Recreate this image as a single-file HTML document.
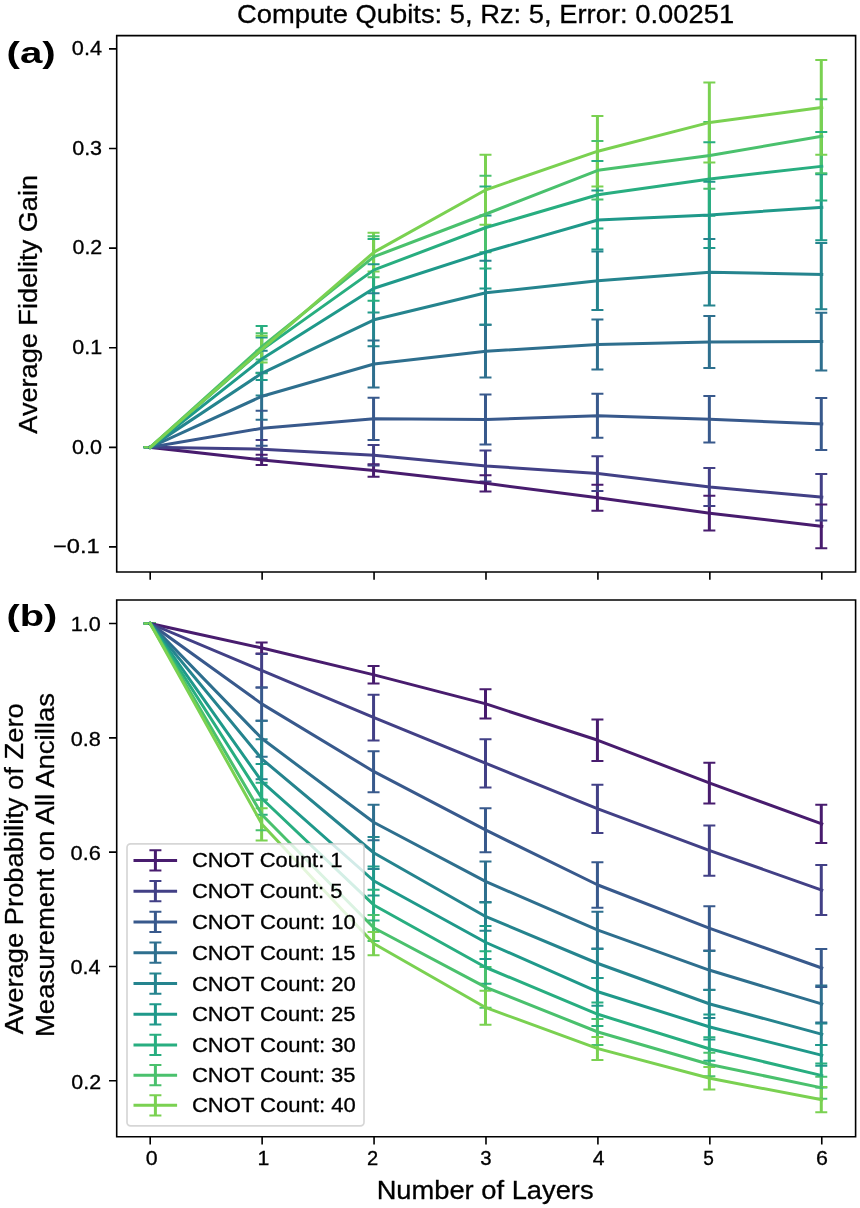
<!DOCTYPE html>
<html><head><meta charset="utf-8"><title>Fidelity gain chart</title>
<style>html,body{margin:0;padding:0;background:#fff;}body{width:860px;height:1208px;overflow:hidden;font-family:"Liberation Sans", sans-serif;}svg{display:block;will-change:transform;}</style></head>
<body>
<svg width="860" height="1208" viewBox="0 0 860 1208" font-family='"Liberation Sans", sans-serif' fill="#000">
<style>text{stroke:#000;stroke-width:0.3px;}text[font-weight=bold]{stroke-width:0;}</style>
<rect width="860" height="1208" fill="#fff"/>
<clipPath id="ca"><rect x="116.7" y="35.6" width="738.9" height="536.4"/></clipPath>
<clipPath id="cb"><rect x="116.7" y="600" width="738.9" height="536.8"/></clipPath>
<g clip-path="url(#ca)"><g stroke-width="3" fill="none">
<path stroke="#481c6e" d="M261.63 454.7V465.1M373.56 464.3V476.7M485.49 475.2V491.4M597.42 484.8V510.8M709.35 495.8V530.6M821.28 504.6V548.2"/>
<path stroke="#424086" d="M261.63 440.1V458.3M373.56 444.9V465.5M485.49 450.4V481.4M597.42 456.2V491M709.35 467.9V506.1M821.28 473.9V520.5"/>
<path stroke="#38598c" d="M261.63 410.8V445.8M373.56 397.7V439.9M485.49 394.6V444.6M597.42 393.8V437.8M709.35 396.1V442.5M821.28 397.9V450.1"/>
<path stroke="#2e6f8e" d="M261.63 372.7V419.7M373.56 340.4V387.6M485.49 324.8V377.6M597.42 319.6V369.6M709.35 315.9V368.1M821.28 312.7V370.5"/>
<path stroke="#25848e" d="M261.63 350.7V395.5M373.56 293.3V346.3M485.49 260.8V324.8M597.42 251.6V310M709.35 239V305.6M821.28 243.1V309.2"/>
<path stroke="#1f998a" d="M261.63 337.4V380M373.56 264.2V312.4M485.49 215.6V288.4M597.42 190.6V249.4M709.35 181.8V248M821.28 174.3V240.3"/>
<path stroke="#28ae80" d="M261.63 326V373.2M373.56 239V300.8M485.49 186.5V268.5M597.42 161V228.6M709.35 142.3V215.7M821.28 132V200.6"/>
<path stroke="#4ac16d" d="M261.63 333.35V359.45M373.56 236.25V277.15M485.49 175.7V252.3M597.42 141V199.6M709.35 122.1V188.7M821.28 99.3V173.3"/>
<path stroke="#7ad151" d="M261.63 335.8V362.5M373.56 232.8V271.4M485.49 154.8V224.8M597.42 116V186.4M709.35 82.4V162.4M821.28 60.1V154.7"/>
</g>
<g stroke-width="2" fill="none">
<path stroke="#481c6e" d="M143.7 447.35h12M143.7 447.35h12M255.63 454.7h12M255.63 465.1h12M367.56 464.3h12M367.56 476.7h12M479.49 475.2h12M479.49 491.4h12M591.42 484.8h12M591.42 510.8h12M703.35 495.8h12M703.35 530.6h12M815.28 504.6h12M815.28 548.2h12"/>
<path stroke="#424086" d="M143.7 447.35h12M143.7 447.35h12M255.63 440.1h12M255.63 458.3h12M367.56 444.9h12M367.56 465.5h12M479.49 450.4h12M479.49 481.4h12M591.42 456.2h12M591.42 491h12M703.35 467.9h12M703.35 506.1h12M815.28 473.9h12M815.28 520.5h12"/>
<path stroke="#38598c" d="M143.7 447.35h12M143.7 447.35h12M255.63 410.8h12M255.63 445.8h12M367.56 397.7h12M367.56 439.9h12M479.49 394.6h12M479.49 444.6h12M591.42 393.8h12M591.42 437.8h12M703.35 396.1h12M703.35 442.5h12M815.28 397.9h12M815.28 450.1h12"/>
<path stroke="#2e6f8e" d="M143.7 447.35h12M143.7 447.35h12M255.63 372.7h12M255.63 419.7h12M367.56 340.4h12M367.56 387.6h12M479.49 324.8h12M479.49 377.6h12M591.42 319.6h12M591.42 369.6h12M703.35 315.9h12M703.35 368.1h12M815.28 312.7h12M815.28 370.5h12"/>
<path stroke="#25848e" d="M143.7 447.35h12M143.7 447.35h12M255.63 350.7h12M255.63 395.5h12M367.56 293.3h12M367.56 346.3h12M479.49 260.8h12M479.49 324.8h12M591.42 251.6h12M591.42 310h12M703.35 239h12M703.35 305.6h12M815.28 243.1h12M815.28 309.2h12"/>
<path stroke="#1f998a" d="M143.7 447.35h12M143.7 447.35h12M255.63 337.4h12M255.63 380h12M367.56 264.2h12M367.56 312.4h12M479.49 215.6h12M479.49 288.4h12M591.42 190.6h12M591.42 249.4h12M703.35 181.8h12M703.35 248h12M815.28 174.3h12M815.28 240.3h12"/>
<path stroke="#28ae80" d="M143.7 447.35h12M143.7 447.35h12M255.63 326h12M255.63 373.2h12M367.56 239h12M367.56 300.8h12M479.49 186.5h12M479.49 268.5h12M591.42 161h12M591.42 228.6h12M703.35 142.3h12M703.35 215.7h12M815.28 132h12M815.28 200.6h12"/>
<path stroke="#4ac16d" d="M143.7 447.35h12M143.7 447.35h12M255.63 333.35h12M255.63 359.45h12M367.56 236.25h12M367.56 277.15h12M479.49 175.7h12M479.49 252.3h12M591.42 141h12M591.42 199.6h12M703.35 122.1h12M703.35 188.7h12M815.28 99.3h12M815.28 173.3h12"/>
<path stroke="#7ad151" d="M143.7 447.35h12M143.7 447.35h12M255.63 335.8h12M255.63 362.5h12M367.56 232.8h12M367.56 271.4h12M479.49 154.8h12M479.49 224.8h12M591.42 116h12M591.42 186.4h12M703.35 82.4h12M703.35 162.4h12M815.28 60.1h12M815.28 154.7h12"/>
</g>
<g stroke-width="3" fill="none" stroke-linecap="square" stroke-linejoin="round">
<path stroke="#481c6e" d="M150.2 447.35 L262.13 459.9 L374.06 470.5 L485.99 483.3 L597.92 497.8 L709.85 513.2 L821.78 526.4"/>
<path stroke="#424086" d="M150.2 447.35 L262.13 449.2 L374.06 455.2 L485.99 465.9 L597.92 473.6 L709.85 487 L821.78 497.2"/>
<path stroke="#38598c" d="M150.2 447.35 L262.13 428.3 L374.06 418.8 L485.99 419.6 L597.92 415.8 L709.85 419.3 L821.78 424"/>
<path stroke="#2e6f8e" d="M150.2 447.35 L262.13 396.2 L374.06 364 L485.99 351.2 L597.92 344.6 L709.85 342 L821.78 341.6"/>
<path stroke="#25848e" d="M150.2 447.35 L262.13 373.1 L374.06 319.8 L485.99 292.8 L597.92 280.8 L709.85 272.3 L821.78 274.4"/>
<path stroke="#1f998a" d="M150.2 447.35 L262.13 358.7 L374.06 288.3 L485.99 252 L597.92 220 L709.85 214.9 L821.78 207.3"/>
<path stroke="#28ae80" d="M150.2 447.35 L262.13 349.6 L374.06 269.9 L485.99 227.5 L597.92 194.8 L709.85 179 L821.78 166.3"/>
<path stroke="#4ac16d" d="M150.2 447.35 L262.13 346.4 L374.06 256.7 L485.99 214 L597.92 170.3 L709.85 155.4 L821.78 136.3"/>
<path stroke="#7ad151" d="M150.2 447.35 L262.13 349.15 L374.06 252.1 L485.99 189.8 L597.92 151.2 L709.85 122.4 L821.78 107.4"/>
</g></g>
<g clip-path="url(#cb)"><g stroke-width="3" fill="none">
<path stroke="#481c6e" d="M261.63 642.4V653.6M373.56 666.1V683.6M485.49 689.25V718.55M597.42 719.55V761.05M709.35 762.65V803.55M821.28 804.65V842.95"/>
<path stroke="#424086" d="M261.63 654V687.4M373.56 694.8V740.4M485.49 739.2V787.6M597.42 784.7V832.9M709.35 825.4V875.8M821.28 865.1V915.1"/>
<path stroke="#38598c" d="M261.63 687.4V720.8M373.56 751.2V792.2M485.49 808.25V852.15M597.42 862.15V907.85M709.35 906.25V950.55M821.28 949V987"/>
<path stroke="#2e6f8e" d="M261.63 720.8V756.8M373.56 804.65V840.35M485.49 861.4V902M597.42 911.85V948.55M709.35 950.9V989.7M821.28 985.5V1022.5"/>
<path stroke="#25848e" d="M261.63 739.2V779.2M373.56 837.1V868.9M485.49 902.6V930.8M597.42 949.05V977.95M709.35 990V1018M821.28 1023.4V1045"/>
<path stroke="#1f998a" d="M261.63 764.1V799.7M373.56 866.6V895.4M485.49 926.1V958.9M597.42 977.9V1005.7M709.35 1014.5V1039.5M821.28 1044.9V1065.7"/>
<path stroke="#28ae80" d="M261.63 782.8V814.7M373.56 889.85V920.55M485.49 951.3V983.7M597.42 1002.6V1026M709.35 1037.15V1060.85M821.28 1063.5V1087.5"/>
<path stroke="#4ac16d" d="M261.63 799.7V830.2M373.56 914.95V941.05M485.49 967.1V1007.7M597.42 1019V1045M709.35 1052.65V1076.35M821.28 1076.8V1098.8"/>
<path stroke="#7ad151" d="M261.63 808.3V840.6M373.56 932.1V955.3M485.49 990.7V1024.7M597.42 1037.1V1060.1M709.35 1067.05V1089.55M821.28 1087.1V1112.3"/>
</g>
<g stroke-width="2" fill="none">
<path stroke="#481c6e" d="M143.7 623.55h12M143.7 623.55h12M255.63 642.4h12M255.63 653.6h12M367.56 666.1h12M367.56 683.6h12M479.49 689.25h12M479.49 718.55h12M591.42 719.55h12M591.42 761.05h12M703.35 762.65h12M703.35 803.55h12M815.28 804.65h12M815.28 842.95h12"/>
<path stroke="#424086" d="M143.7 623.55h12M143.7 623.55h12M255.63 654h12M255.63 687.4h12M367.56 694.8h12M367.56 740.4h12M479.49 739.2h12M479.49 787.6h12M591.42 784.7h12M591.42 832.9h12M703.35 825.4h12M703.35 875.8h12M815.28 865.1h12M815.28 915.1h12"/>
<path stroke="#38598c" d="M143.7 623.55h12M143.7 623.55h12M255.63 687.4h12M255.63 720.8h12M367.56 751.2h12M367.56 792.2h12M479.49 808.25h12M479.49 852.15h12M591.42 862.15h12M591.42 907.85h12M703.35 906.25h12M703.35 950.55h12M815.28 949h12M815.28 987h12"/>
<path stroke="#2e6f8e" d="M143.7 623.55h12M143.7 623.55h12M255.63 720.8h12M255.63 756.8h12M367.56 804.65h12M367.56 840.35h12M479.49 861.4h12M479.49 902h12M591.42 911.85h12M591.42 948.55h12M703.35 950.9h12M703.35 989.7h12M815.28 985.5h12M815.28 1022.5h12"/>
<path stroke="#25848e" d="M143.7 623.55h12M143.7 623.55h12M255.63 739.2h12M255.63 779.2h12M367.56 837.1h12M367.56 868.9h12M479.49 902.6h12M479.49 930.8h12M591.42 949.05h12M591.42 977.95h12M703.35 990h12M703.35 1018h12M815.28 1023.4h12M815.28 1045h12"/>
<path stroke="#1f998a" d="M143.7 623.55h12M143.7 623.55h12M255.63 764.1h12M255.63 799.7h12M367.56 866.6h12M367.56 895.4h12M479.49 926.1h12M479.49 958.9h12M591.42 977.9h12M591.42 1005.7h12M703.35 1014.5h12M703.35 1039.5h12M815.28 1044.9h12M815.28 1065.7h12"/>
<path stroke="#28ae80" d="M143.7 623.55h12M143.7 623.55h12M255.63 782.8h12M255.63 814.7h12M367.56 889.85h12M367.56 920.55h12M479.49 951.3h12M479.49 983.7h12M591.42 1002.6h12M591.42 1026h12M703.35 1037.15h12M703.35 1060.85h12M815.28 1063.5h12M815.28 1087.5h12"/>
<path stroke="#4ac16d" d="M143.7 623.55h12M143.7 623.55h12M255.63 799.7h12M255.63 830.2h12M367.56 914.95h12M367.56 941.05h12M479.49 967.1h12M479.49 1007.7h12M591.42 1019h12M591.42 1045h12M703.35 1052.65h12M703.35 1076.35h12M815.28 1076.8h12M815.28 1098.8h12"/>
<path stroke="#7ad151" d="M143.7 623.55h12M143.7 623.55h12M255.63 808.3h12M255.63 840.6h12M367.56 932.1h12M367.56 955.3h12M479.49 990.7h12M479.49 1024.7h12M591.42 1037.1h12M591.42 1060.1h12M703.35 1067.05h12M703.35 1089.55h12M815.28 1087.1h12M815.28 1112.3h12"/>
</g>
<g stroke-width="3" fill="none" stroke-linecap="square" stroke-linejoin="round">
<path stroke="#481c6e" d="M150.2 623.55 L262.13 648 L374.06 674.85 L485.99 703.9 L597.92 740.3 L709.85 783.1 L821.78 823.8"/>
<path stroke="#424086" d="M150.2 623.55 L262.13 670.7 L374.06 717.6 L485.99 763.4 L597.92 808.8 L709.85 850.6 L821.78 890.1"/>
<path stroke="#38598c" d="M150.2 623.55 L262.13 704.1 L374.06 771.7 L485.99 830.2 L597.92 885 L709.85 928.4 L821.78 968"/>
<path stroke="#2e6f8e" d="M150.2 623.55 L262.13 738.8 L374.06 822.5 L485.99 881.7 L597.92 930.2 L709.85 970.3 L821.78 1004"/>
<path stroke="#25848e" d="M150.2 623.55 L262.13 759.2 L374.06 853 L485.99 916.7 L597.92 963.5 L709.85 1004 L821.78 1034.2"/>
<path stroke="#1f998a" d="M150.2 623.55 L262.13 781.9 L374.06 881 L485.99 942.5 L597.92 991.8 L709.85 1027 L821.78 1055.3"/>
<path stroke="#28ae80" d="M150.2 623.55 L262.13 798.75 L374.06 905.2 L485.99 967.5 L597.92 1014.3 L709.85 1049 L821.78 1075.5"/>
<path stroke="#4ac16d" d="M150.2 623.55 L262.13 814.95 L374.06 928 L485.99 987.4 L597.92 1032 L709.85 1064.5 L821.78 1087.8"/>
<path stroke="#7ad151" d="M150.2 623.55 L262.13 824.45 L374.06 943.7 L485.99 1007.7 L597.92 1048.6 L709.85 1078.3 L821.78 1099.7"/>
</g></g>
<rect x="127" y="843.8" width="237" height="282.1" rx="3.6" ry="3.6" fill="#fff" fill-opacity="0.8" stroke="#ccc" stroke-opacity="0.8" stroke-width="1.7"/>
<path stroke="#481c6e" stroke-width="3" d="M155.4 850.25V870.55"/>
<path stroke="#481c6e" stroke-width="2" d="M149.4 850.25h12M149.4 870.55h12"/>
<path stroke="#481c6e" stroke-width="3" stroke-linecap="square" d="M135 860.4H175.6"/>
<text x="191.91" y="867.3" font-size="20" textLength="150.62" lengthAdjust="spacingAndGlyphs">CNOT Count: 1</text>
<path stroke="#424086" stroke-width="3" d="M155.4 881.05V901.35"/>
<path stroke="#424086" stroke-width="2" d="M149.4 881.05h12M149.4 901.35h12"/>
<path stroke="#424086" stroke-width="3" stroke-linecap="square" d="M135 891.2H175.6"/>
<text x="191.91" y="898.1" font-size="20" textLength="150.55" lengthAdjust="spacingAndGlyphs">CNOT Count: 5</text>
<path stroke="#38598c" stroke-width="3" d="M155.4 911.75V932.05"/>
<path stroke="#38598c" stroke-width="2" d="M149.4 911.75h12M149.4 932.05h12"/>
<path stroke="#38598c" stroke-width="3" stroke-linecap="square" d="M135 921.9H175.6"/>
<text x="191.9" y="928.8" font-size="20" textLength="163.9" lengthAdjust="spacingAndGlyphs">CNOT Count: 10</text>
<path stroke="#2e6f8e" stroke-width="3" d="M155.4 942.55V962.85"/>
<path stroke="#2e6f8e" stroke-width="2" d="M149.4 942.55h12M149.4 962.85h12"/>
<path stroke="#2e6f8e" stroke-width="3" stroke-linecap="square" d="M135 952.7H175.6"/>
<text x="191.9" y="959.6" font-size="20" textLength="163.54" lengthAdjust="spacingAndGlyphs">CNOT Count: 15</text>
<path stroke="#25848e" stroke-width="3" d="M155.4 973.45V993.75"/>
<path stroke="#25848e" stroke-width="2" d="M149.4 973.45h12M149.4 993.75h12"/>
<path stroke="#25848e" stroke-width="3" stroke-linecap="square" d="M135 983.6H175.6"/>
<text x="191.9" y="990.5" font-size="20" textLength="163.9" lengthAdjust="spacingAndGlyphs">CNOT Count: 20</text>
<path stroke="#1f998a" stroke-width="3" d="M155.4 1004.15V1024.45"/>
<path stroke="#1f998a" stroke-width="2" d="M149.4 1004.15h12M149.4 1024.45h12"/>
<path stroke="#1f998a" stroke-width="3" stroke-linecap="square" d="M135 1014.3H175.6"/>
<text x="191.9" y="1021.2" font-size="20" textLength="163.54" lengthAdjust="spacingAndGlyphs">CNOT Count: 25</text>
<path stroke="#28ae80" stroke-width="3" d="M155.4 1034.75V1055.05"/>
<path stroke="#28ae80" stroke-width="2" d="M149.4 1034.75h12M149.4 1055.05h12"/>
<path stroke="#28ae80" stroke-width="3" stroke-linecap="square" d="M135 1044.9H175.6"/>
<text x="191.9" y="1051.8" font-size="20" textLength="163.9" lengthAdjust="spacingAndGlyphs">CNOT Count: 30</text>
<path stroke="#4ac16d" stroke-width="3" d="M155.4 1065.05V1085.35"/>
<path stroke="#4ac16d" stroke-width="2" d="M149.4 1065.05h12M149.4 1085.35h12"/>
<path stroke="#4ac16d" stroke-width="3" stroke-linecap="square" d="M135 1075.2H175.6"/>
<text x="191.9" y="1082.1" font-size="20" textLength="163.54" lengthAdjust="spacingAndGlyphs">CNOT Count: 35</text>
<path stroke="#7ad151" stroke-width="3" d="M155.4 1095.15V1115.45"/>
<path stroke="#7ad151" stroke-width="2" d="M149.4 1095.15h12M149.4 1115.45h12"/>
<path stroke="#7ad151" stroke-width="3" stroke-linecap="square" d="M135 1105.3H175.6"/>
<text x="191.9" y="1112.2" font-size="20" textLength="163.9" lengthAdjust="spacingAndGlyphs">CNOT Count: 40</text>
<path stroke="#000" stroke-width="1.6" fill="none" stroke-linecap="square" d="M116.7 35.6H855.6V572H116.7Z"/>
<path stroke="#000" stroke-width="1.6" fill="none" stroke-linecap="square" d="M116.7 600H855.6V1136.8H116.7Z"/>
<path stroke="#000" stroke-width="1.6" d="M150.2 572v7.7M150.2 1136.8v7.7M262.13 572v7.7M262.13 1136.8v7.7M374.06 572v7.7M374.06 1136.8v7.7M485.99 572v7.7M485.99 1136.8v7.7M597.92 572v7.7M597.92 1136.8v7.7M709.85 572v7.7M709.85 1136.8v7.7M821.78 572v7.7M821.78 1136.8v7.7M116.7 48.9h-7.7M116.7 148.5h-7.7M116.7 248.1h-7.7M116.7 347.7h-7.7M116.7 447.35h-7.7M116.7 546.9h-7.7M116.7 623.55h-7.7M116.7 737.85h-7.7M116.7 852.15h-7.7M116.7 966.45h-7.7M116.7 1080.75h-7.7"/>
<text x="71.83" y="55.1" font-size="20" textLength="30.17" lengthAdjust="spacingAndGlyphs">0.4</text>
<text x="72.16" y="154.7" font-size="20" textLength="29.96" lengthAdjust="spacingAndGlyphs">0.3</text>
<text x="72.56" y="254.3" font-size="20" textLength="29.72" lengthAdjust="spacingAndGlyphs">0.2</text>
<text x="72.36" y="353.9" font-size="20" textLength="29.87" lengthAdjust="spacingAndGlyphs">0.1</text>
<text x="71.94" y="453.55" font-size="20" textLength="29.98" lengthAdjust="spacingAndGlyphs">0.0</text>
<text x="52.92" y="553.1" font-size="20" textLength="46.75" lengthAdjust="spacingAndGlyphs">−0.1</text>
<text x="70.78" y="631.35" font-size="20" textLength="30.03" lengthAdjust="spacingAndGlyphs">1.0</text>
<text x="70.73" y="745.65" font-size="20" textLength="30.2" lengthAdjust="spacingAndGlyphs">0.8</text>
<text x="70.61" y="859.95" font-size="20" textLength="30.32" lengthAdjust="spacingAndGlyphs">0.6</text>
<text x="70.47" y="974.25" font-size="20" textLength="30.13" lengthAdjust="spacingAndGlyphs">0.4</text>
<text x="71.36" y="1088.55" font-size="20" textLength="29.72" lengthAdjust="spacingAndGlyphs">0.2</text>
<text x="145.75" y="1164.9" font-size="20" textLength="11.88" lengthAdjust="spacingAndGlyphs">0</text>
<text x="257.4" y="1164.9" font-size="20" textLength="11.83" lengthAdjust="spacingAndGlyphs">1</text>
<text x="366.94" y="1164.9" font-size="20" textLength="11.18" lengthAdjust="spacingAndGlyphs">2</text>
<text x="480.24" y="1164.9" font-size="20" textLength="11.3" lengthAdjust="spacingAndGlyphs">3</text>
<text x="592.87" y="1164.9" font-size="20" textLength="11.78" lengthAdjust="spacingAndGlyphs">4</text>
<text x="703.19" y="1164.9" font-size="20" textLength="10.6" lengthAdjust="spacingAndGlyphs">5</text>
<text x="815.93" y="1164.9" font-size="20" textLength="11.91" lengthAdjust="spacingAndGlyphs">6</text>
<text x="236.93" y="22.7" font-size="26" textLength="497.19" lengthAdjust="spacingAndGlyphs">Compute Qubits: 5, Rz: 5, Error: 0.00251</text>
<text x="376.65" y="1198.7" font-size="26" textLength="216.92" lengthAdjust="spacingAndGlyphs">Number of Layers</text>
<text x="36.9" y="433.67" font-size="26" textLength="258.69" lengthAdjust="spacingAndGlyphs" transform="rotate(-90 36.9 433.67)">Average Fidelity Gain</text>
<text x="23" y="1034.17" font-size="26" textLength="330.92" lengthAdjust="spacingAndGlyphs" transform="rotate(-90 23 1034.17)">Average Probability of Zero</text>
<text x="54" y="1037.07" font-size="26" textLength="344.01" lengthAdjust="spacingAndGlyphs" transform="rotate(-90 54 1037.07)">Measurement on All Ancillas</text>
<text x="6.49" y="62.6" font-size="29.3" textLength="49.21" lengthAdjust="spacingAndGlyphs" font-weight="bold">(a)</text>
<text x="6.51" y="625.7" font-size="29.3" textLength="50.75" lengthAdjust="spacingAndGlyphs" font-weight="bold">(b)</text>
</svg>
</body></html>
